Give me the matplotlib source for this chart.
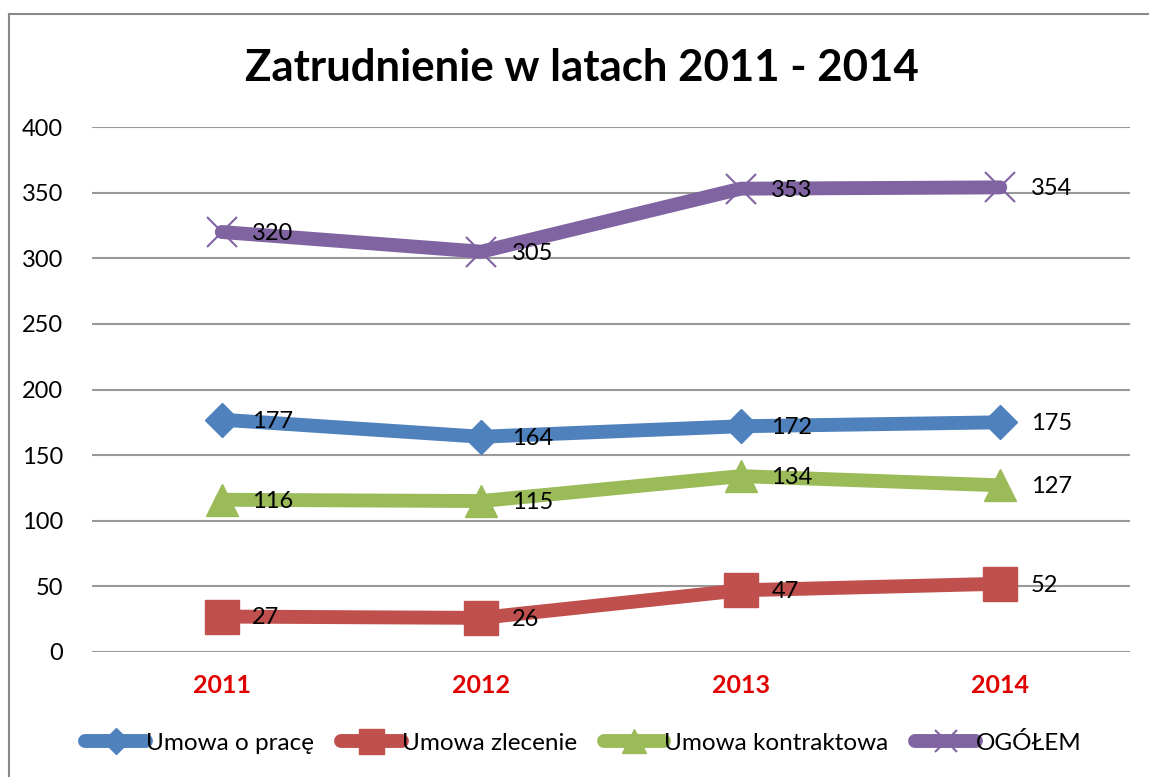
import matplotlib.pyplot as plt
from matplotlib.lines import Line2D

plt.rcParams.update({
    'font.family': ['Lato', 'DejaVu Sans'],
    'font.size': 17,
})

# dane
lata = ['2011', '2012', '2013', '2014']
umowa_o_prace = [177, 164, 172, 175]
umowa_zlecenie = [27, 26, 47, 52]
umowa_kontraktowa = [116, 115, 134, 127]
ogolem = [320, 305, 353, 354]

serie = [
    ('Umowa o pracę', umowa_o_prace, '#4F81BD', 'D', 17),
    ('Umowa zlecenie', umowa_zlecenie, '#C0504D', 's', 24),
    ('Umowa kontraktowa', umowa_kontraktowa, '#9BBB59', '^', 23),
    ('OGÓŁEM', ogolem, '#8064A2', 'x', 22),
]

fig = plt.figure(figsize=(11.49, 7.77), dpi=100)
ax = fig.add_axes([92 / 1149, 1 - 652 / 777, 1038 / 1149, 525 / 777])

# ramka wykresu (tylko lewa i górna krawędź widoczna)
xl, yt = 8.5 / 1149, 1 - 14 / 777
fig.lines.append(Line2D([xl, xl], [0, yt], transform=fig.transFigure,
                        color='#888888', linewidth=1.5))
fig.lines.append(Line2D([xl, 1], [yt, yt], transform=fig.transFigure,
                        color='#888888', linewidth=1.5))

x = range(len(lata))
uchwyty = []
for nazwa, wartosci, kolor, marker, ms in serie:
    mew = 1.5 if marker == 'x' else 1
    ax.plot(x, wartosci, color=kolor, linewidth=10, solid_capstyle='round',
            marker=marker, markersize=ms, markeredgewidth=mew,
            markeredgecolor=kolor, markerfacecolor=kolor, zorder=3)
    for xi, v in zip(x, wartosci):
        ax.annotate(str(v), (xi, v), xytext=(22, -1), textcoords='offset points',
                    va='center', ha='left', fontsize=17, zorder=4)
    uchwyty.append(Line2D([], [], color=kolor, linewidth=10, solid_capstyle='round',
                          marker=marker, markersize=ms * 0.75, markeredgewidth=mew,
                          markeredgecolor=kolor, markerfacecolor=kolor, label=nazwa))

ax.set_xlim(-0.5, 3.5)
ax.set_ylim(0, 400)
ax.set_yticks(range(0, 401, 50))
ax.set_xticks(list(x))
ax.set_xticklabels(lata, color='#E00000', fontweight='bold', fontsize=18)
ax.tick_params(axis='y', length=0, labelsize=17, pad=21)
ax.tick_params(axis='x', length=0, pad=16)
ax.grid(axis='y', color='#999999', linewidth=1.5)
ax.set_axisbelow(True)
for s in ax.spines.values():
    s.set_visible(False)

fig.text(0.506, 1 - 68 / 777, 'Zatrudnienie w latach 2011 - 2014', ha='center',
         va='center', fontsize=31.5, fontweight='bold')

fig.legend(handles=uchwyty, loc='center', bbox_to_anchor=(0.508, 1 - 743 / 777),
           ncol=4, frameon=False, fontsize=17.5, handlelength=2.5,
           handletextpad=0.0, columnspacing=1.1)

fig.savefig('out.png', dpi=100)
